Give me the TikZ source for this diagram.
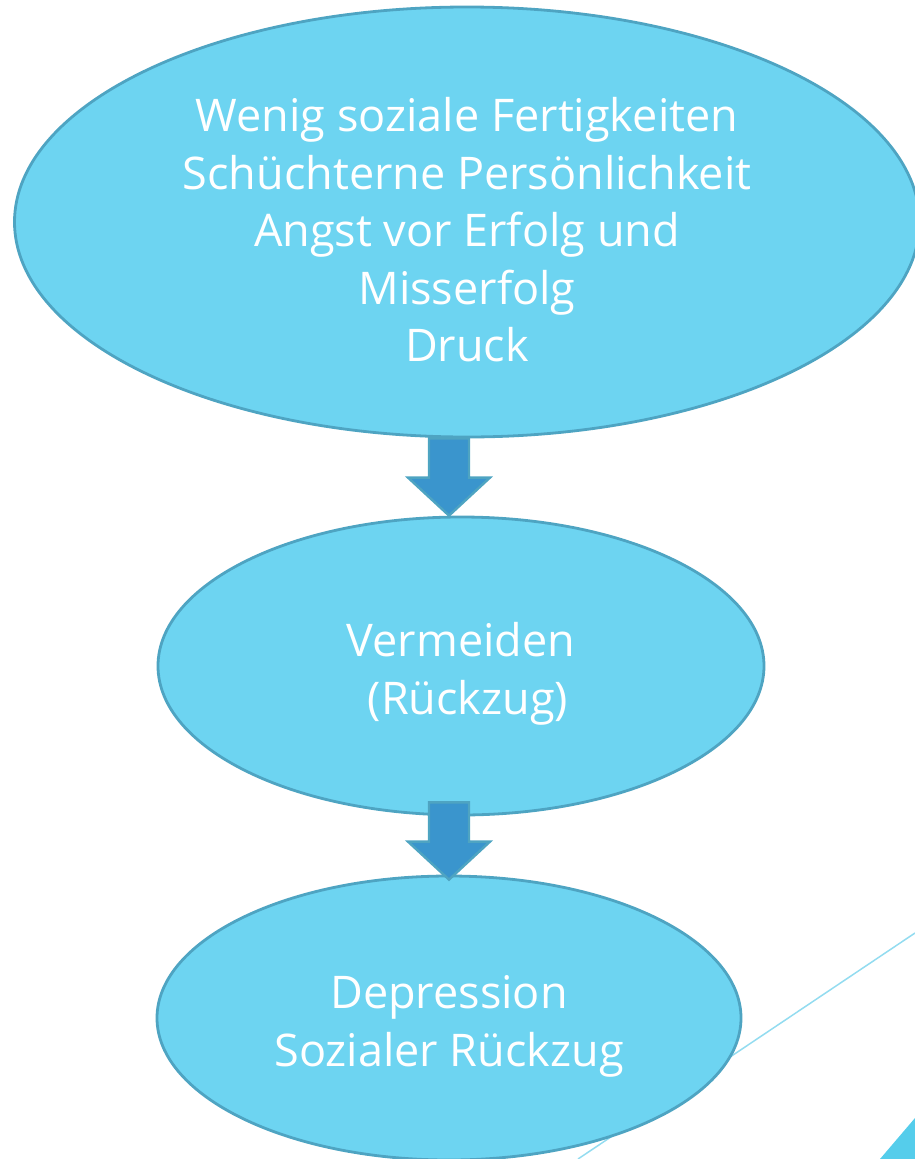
\documentclass[tikz,border=0pt]{standalone}
\usepackage{fontspec}
\setmainfont{Open Sans}
\usetikzlibrary{shapes.geometric,calc}

\definecolor{ellfill}{HTML}{6DD4F1}
\definecolor{elledge}{HTML}{4EA4C2}
\definecolor{arrfill}{HTML}{3A95CD}
\definecolor{decoline}{HTML}{93DCF0}
\definecolor{decofill}{HTML}{55CDEB}

\tikzset{
  bubble/.style={ellipse,draw=elledge,line width=2.8pt,fill=ellfill,inner sep=0pt,
    text=white,align=center,font=\fontsize{45}{57.5}\selectfont},
  blockarrow/.style={draw=elledge,line width=2.4pt,fill=arrfill,line join=miter}
}

% strut on the first line, pushes the text a bit lower
\newcommand{\topgap}{\rule{0pt}{50pt}}

% block arrow pointing down, from #1 (top of shaft) to #2 (tip)
\newcommand{\downblock}[2]{%
  \draw[blockarrow] let \p1=(#1), \p2=(#2) in
    (\x1-20pt,\y1) -- (\x1+20pt,\y1) -- (\x1+20pt,\y2+38pt) -- (\x1+41pt,\y2+38pt)
    -- (\x1,\y2) -- (\x1-41pt,\y2+38pt) -- (\x1-20pt,\y2+38pt) -- cycle;}

\begin{document}
\begin{tikzpicture}[x=1pt,y=-1pt]
  \useasboundingbox (0,0) rectangle (915,1159);
  \clip (0,0) rectangle (915,1159);
  % deko
  \draw[decoline,line width=1.5pt] (915,933) -- (578,1159);
  \fill[decofill] (880,1159) -- (915,1118) -- (915,1159) -- cycle;
  % ellipsen
  \node[bubble,minimum width=905,minimum height=430] (top) at (467,222)
    {\topgap Wenig soziale Fertigkeiten\\Schüchterne Persönlichkeit\\Angst vor Erfolg und\\Misserfolg\\Druck};
  \node[bubble,minimum width=606,minimum height=298] (mid) at (461,666)
    {\topgap Vermeiden\\\hspace{14pt}(Rückzug)};
  \node[bubble,minimum width=584,minimum height=284] (low) at (449,1018)
    {\topgap Depression\\Sozialer Rückzug};
  % pfeile
  \downblock{top.south -| low.north}{$(mid.north -| low.north)$}
  \downblock{$(mid.south -| low.north)+(0,-14)$}{$(low.north)+(0,5)$}
\end{tikzpicture}
\end{document}
